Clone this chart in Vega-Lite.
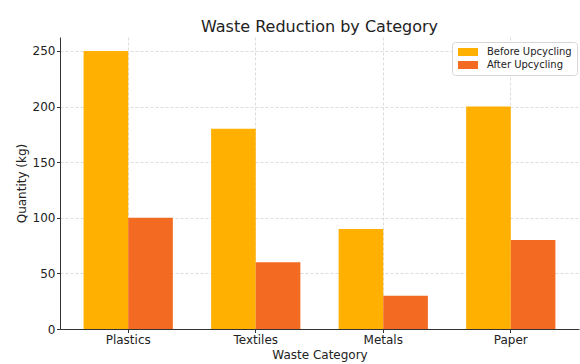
{
  "$schema": "https://vega.github.io/schema/vega-lite/v6.json",
  "width": 519,
  "height": 292,
  "autosize": {"type": "none"},
  "padding": {"left": 60, "top": 37, "right": 1, "bottom": 35},
  "background": "white",
  "title": {
    "text": "Waste Reduction by Category",
    "fontSize": 16,
    "font": "DejaVu Sans",
    "fontWeight": "normal",
    "color": "#222222",
    "offset": 2
  },
  "data": {
    "values": [
      {"category": "Plastics", "stage": "Before Upcycling", "quantity": 250},
      {"category": "Plastics", "stage": "After Upcycling", "quantity": 100},
      {"category": "Textiles", "stage": "Before Upcycling", "quantity": 180},
      {"category": "Textiles", "stage": "After Upcycling", "quantity": 60},
      {"category": "Metals", "stage": "Before Upcycling", "quantity": 90},
      {"category": "Metals", "stage": "After Upcycling", "quantity": 30},
      {"category": "Paper", "stage": "Before Upcycling", "quantity": 200},
      {"category": "Paper", "stage": "After Upcycling", "quantity": 80}
    ]
  },
  "mark": {"type": "bar"},
  "encoding": {
    "x": {
      "field": "category",
      "type": "nominal",
      "sort": ["Plastics", "Textiles", "Metals", "Paper"],
      "scale": {"paddingInner": 0.3, "paddingOuter": 0.185},
      "axis": {
        "title": "Waste Category",
        "labelAngle": 0,
        "titlePadding": 4
      }
    },
    "xOffset": {
      "field": "stage",
      "type": "nominal",
      "sort": ["Before Upcycling", "After Upcycling"],
      "scale": {"paddingInner": 0, "paddingOuter": 0}
    },
    "y": {
      "field": "quantity",
      "type": "quantitative",
      "scale": {"domain": [0, 262.5], "nice": false},
      "axis": {
        "title": "Quantity (kg)",
        "values": [0, 50, 100, 150, 200, 250],
        "titlePadding": 4
      }
    },
    "color": {
      "field": "stage",
      "type": "nominal",
      "sort": ["Before Upcycling", "After Upcycling"],
      "scale": {"range": ["#FFB000", "#F36A22"]},
      "legend": {
        "title": null,
        "orient": "none",
        "legendX": 392,
        "legendY": 5,
        "symbolType": "M-2.5,-1H2.5V1H-2.5Z",
        "symbolSize": 64,
        "symbolOffset": 6,
        "symbolStrokeWidth": 0,
        "labelFontSize": 10,
        "labelFont": "DejaVu Sans",
        "labelColor": "#222222",
        "fillColor": "white",
        "strokeColor": "#d6d6d6",
        "cornerRadius": 3,
        "padding": 5,
        "rowPadding": 3,
        "labelOffset": 14
      }
    }
  },
  "config": {
    "view": {"stroke": null},
    "font": "DejaVu Sans",
    "axis": {
      "labelFont": "DejaVu Sans",
      "labelFontSize": 12,
      "labelColor": "#222222",
      "titleFont": "DejaVu Sans",
      "titleFontSize": 12,
      "titleFontWeight": "normal",
      "titleColor": "#222222",
      "domainColor": "#333333",
      "domainWidth": 1,
      "tickColor": "#333333",
      "tickSize": 3.5,
      "labelPadding": 1.5,
      "grid": true,
      "gridColor": "#cfcfcf",
      "gridDash": [3, 2],
      "gridWidth": 0.7
    }
  }
}
